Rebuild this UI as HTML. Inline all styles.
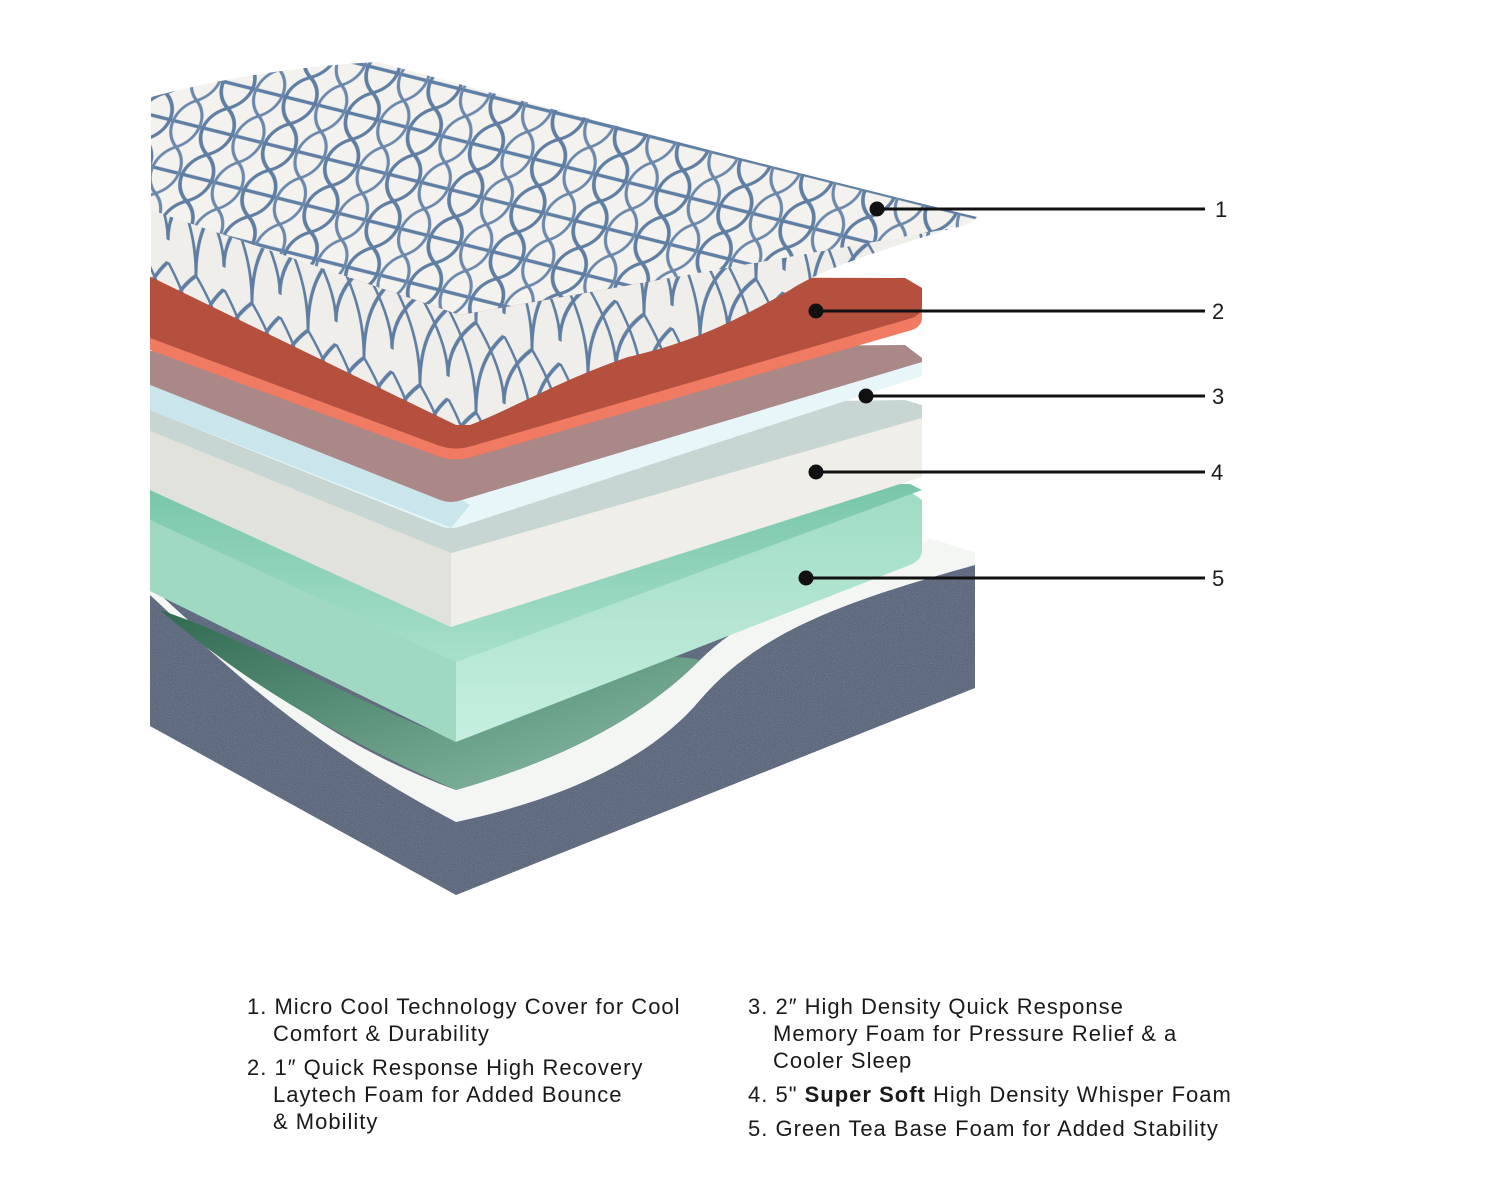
<!DOCTYPE html>
<html><head><meta charset="utf-8"><style>
html,body{margin:0;padding:0;background:#fff;}
body{width:1500px;height:1200px;position:relative;overflow:hidden;font-family:"Liberation Sans",sans-serif;color:#1a1a1a;}
.t{position:absolute;font-size:22px;letter-spacing:1px;white-space:nowrap;line-height:27px;}
.n{position:absolute;font-size:22px;}
</style></head><body>
<svg width="1500" height="1200" style="position:absolute;left:0;top:0">
<defs>
<pattern id="net" width="64" height="50" patternUnits="userSpaceOnUse" patternTransform="rotate(14) skewX(-10)">
<rect width="64" height="50" fill="#f3f2ee"/>
<path d="M0 0 C20 12 20 38 0 50 M64 0 C44 12 44 38 64 50 M0 25 L64 25" fill="none" stroke="#5f7ea3" stroke-width="3.5"/>
<path d="M32 0 C14 12 14 38 32 50 M32 0 C50 12 50 38 32 50" fill="none" stroke="#6b89ad" stroke-width="3"/>
</pattern>
<pattern id="net2" width="56" height="90" patternUnits="userSpaceOnUse" patternTransform="skewY(26)">
<rect width="56" height="90" fill="#efeeea"/>
<path d="M0 0 C22 30 28 60 28 90 M56 0 C34 30 28 60 28 90 M28 0 C10 22 0 45 0 68 M28 0 C46 22 56 45 56 68" fill="none" stroke="#5f7ea3" stroke-width="3"/>
</pattern>
<filter id="noise"><feTurbulence type="fractalNoise" baseFrequency="0.9" numOctaves="2" result="t"/><feColorMatrix type="saturate" values="0"/><feComponentTransfer><feFuncA type="linear" slope="0.35"/></feComponentTransfer><feComposite in2="SourceGraphic" operator="in"/></filter>
<linearGradient id="grn" x1="0" y1="0" x2="0" y2="1"><stop offset="0" stop-color="#78c6a9"/><stop offset="1" stop-color="#a8e0cb"/></linearGradient>
<linearGradient id="grnF" x1="0" y1="0" x2="0" y2="1"><stop offset="0" stop-color="#9fdcc4"/><stop offset="1" stop-color="#c6efe0"/></linearGradient>
<linearGradient id="dk" x1="0" y1="0" x2="1" y2="1"><stop offset="0" stop-color="#2f6a50"/><stop offset="1" stop-color="#8dbfa9"/></linearGradient>
</defs>

<!-- base -->
<path d="M150 595 L150 726 L456 895 L975 688 L975 553 L930 540 L920 560 Z" fill="#4f5c75"/>
<path d="M150 595 L150 726 L456 895 L975 688 L975 553 L930 540 L920 560 Z" fill="#9aa6bb" filter="url(#noise)"/>
<!-- liner -->
<path d="M150 595 C220 660 300 740 456 822 C560 800 650 760 700 700 C760 630 850 600 975 565 L975 553 L930 538 L920 545 C820 590 750 610 700 660 C640 720 560 760 456 790 C320 740 230 660 150 585Z" fill="#f4f6f4"/>
<!-- inner dark green -->
<path d="M160 610 C230 670 320 730 456 790 C560 760 640 720 700 660 C650 650 550 660 456 740 C350 700 250 640 160 610Z" fill="url(#dk)"/>
<!-- green layer -->
<path d="M150 490 L150 591 L456 742 L910 565 Q922 560 922 550 L922 500 L905 488 Z" fill="url(#grnF)"/>
<path d="M150 490 L150 520 L456 662 L922 490 L910 484 Z" fill="url(#grn)"/>
<path d="M150 520 L456 662 L456 742 L150 591Z" fill="#9fd9c2"/>
<!-- white layer -->
<path d="M150 431 L150 490 L451 627 L922 477 L922 418 L451 553 Z" fill="#efeee9"/>
<path d="M150 410 L150 431 L451 553 L922 418 L922 405 L905 400 Z" fill="#c7d6d3"/>
<path d="M150 431 L451 553 L451 627 L150 490Z" fill="#e2e2dd"/>
<!-- layer 3 -->
<path d="M150 351 L150 410 L440 526 Q451 530 462 526 L922 376 L922 358 L905 345 Z" fill="#e7f7f9"/>
<path d="M150 351 L150 385 L440 500 Q451 504 462 500 L922 362 L922 358 L905 345 Z" fill="#a98887"/>
<path d="M150 385 L440 500 Q451 504 462 500 L470 505 L451 528 L150 410Z" fill="#cbe5ec"/>
<!-- red layer -->
<path d="M150 277 L150 350 L440 457 Q456 462 472 457 L912 330 Q922 326 922 318 L922 288 L905 278 Z" fill="#f07a62"/>
<path d="M150 277 L150 338 L440 446 Q456 451 472 446 L912 318 Q922 314 922 306 L922 288 L905 278 Z" fill="#b5503f"/>
<!-- cover front face -->
<path d="M151 210 L460 315 L953 228 C880 250 820 270 790 290 C720 330 680 345 628 357 C560 380 510 410 470 425 L456 425 L151 277 Z" fill="url(#net2)"/>
<!-- cover top -->
<path d="M151 97 Q260 68 378 62 Q700 150 977 217 Q970 226 953 228 L460 315 L151 210 Z" fill="url(#net)"/>

<!-- callouts -->
<g stroke="#111" stroke-width="3" fill="#111">
<line x1="877" y1="209" x2="1205" y2="209"/><circle cx="877" cy="209" r="6"/>
<line x1="816" y1="311" x2="1205" y2="311"/><circle cx="816" cy="311" r="6"/>
<line x1="866" y1="396" x2="1205" y2="396"/><circle cx="866" cy="396" r="6"/>
<line x1="816" y1="472" x2="1205" y2="472"/><circle cx="816" cy="472" r="6"/>
<line x1="806" y1="578" x2="1205" y2="578"/><circle cx="806" cy="578" r="6"/>
</g>
</svg>
<div class="n" style="left:1215px;top:197px">1</div>
<div class="n" style="left:1212px;top:299px">2</div>
<div class="n" style="left:1212px;top:384px">3</div>
<div class="n" style="left:1211px;top:460px">4</div>
<div class="n" style="left:1212px;top:566px">5</div>

<div class="t" style="left:247px;top:993px">1.&nbsp;Micro Cool Technology Cover for Cool</div>
<div class="t" style="left:273px;top:1020px">Comfort &amp; Durability</div>
<div class="t" style="left:247px;top:1054px">2. 1″ Quick Response High Recovery</div>
<div class="t" style="left:273px;top:1081px">Laytech Foam for Added Bounce</div>
<div class="t" style="left:273px;top:1108px">&amp; Mobility</div>

<div class="t" style="left:748px;top:993px">3. 2″ High Density Quick Response</div>
<div class="t" style="left:773px;top:1020px">Memory Foam for Pressure Relief &amp; a</div>
<div class="t" style="left:773px;top:1047px">Cooler Sleep</div>
<div class="t" style="left:748px;top:1081px">4. 5" <b>Super Soft</b> High Density Whisper Foam</div>
<div class="t" style="left:748px;top:1115px">5. Green Tea Base Foam for Added Stability</div>
</body></html>
